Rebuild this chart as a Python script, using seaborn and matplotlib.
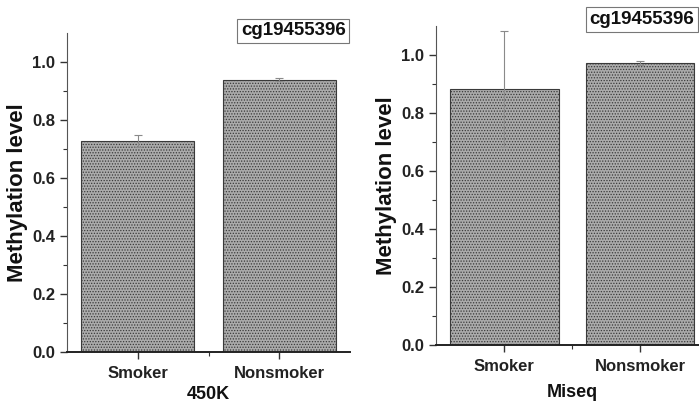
import numpy as np
import pandas as pd
import matplotlib
matplotlib.use('Agg')
import matplotlib.pyplot as plt
import seaborn as sns

# values
groups = ['Smoker', 'Nonsmoker']
meth_450k = [0.727, 0.938]
err_450k = [0.02, 0.005]
meth_miseq = [0.882, 0.972]
err_miseq = [0.20, 0.008]
panel_xlabels = ['450K', 'Miseq']
probe = 'cg19455396'

sns.set_style('ticks', {'text.color': '#111111', 'xtick.color': '#222222',
                        'ytick.color': '#222222', 'axes.labelcolor': '#111111'})
plt.rcParams['font.family'] = ['Liberation Sans Narrow', 'Liberation Sans', 'DejaVu Sans']
plt.rcParams['hatch.color'] = '#666666'
plt.rcParams['hatch.linewidth'] = 0.6

fig = plt.figure(figsize=(6.99, 4.05), dpi=100)
ax1 = fig.add_axes([0.096, 0.131, 0.405, 0.788])
ax2 = fig.add_axes([0.624, 0.148, 0.389, 0.788])

panels = [(ax1, meth_450k, err_450k, panel_xlabels[0], 4),
          (ax2, meth_miseq, err_miseq, panel_xlabels[1], 7)]

for ax, vals, errs, xlab, xpad in panels:
    df = pd.DataFrame({'group': groups, 'level': vals})
    sns.barplot(data=df, x='group', y='level', order=groups, errorbar=None,
                color='#ababab', saturation=1, width=0.8,
                edgecolor='#3a3a3a', linewidth=0.8, ax=ax)
    for p in ax.patches:
        p.set_hatch('......')
    ax.errorbar(range(len(groups)), vals, yerr=errs, fmt='none',
                ecolor='#8a8a8a', elinewidth=0.8, capsize=3, capthick=0.8)
    ax.set_xlim(-0.5, 1.5)
    ax.set_ylim(0, 1.1)
    ax.set_yticks(np.arange(0, 1.01, 0.2))
    ax.set_yticks(np.arange(0.1, 1.1, 0.2), minor=True)
    ax.set_xticks([0.5], minor=True)
    ax.set_yticklabels(['%.1f' % t for t in np.arange(0, 1.01, 0.2)],
                       fontsize=12, fontweight='bold')
    ax.set_xticklabels(groups, fontsize=12, fontweight='bold')
    ax.tick_params(axis='both', which='major', length=5, width=1, color='#333333')
    ax.tick_params(axis='x', which='major', pad=5)
    ax.tick_params(axis='both', which='minor', length=3, width=0.8, color='#333333')
    ax.set_ylabel('Methylation level', fontsize=16, fontweight='bold',
                  family=['Liberation Sans', 'DejaVu Sans'], labelpad=3)
    ax.set_xlabel(xlab, fontsize=13, fontweight='bold', labelpad=xpad)
    sns.despine(ax=ax)
    ax.spines['left'].set_color('#555555')
    ax.spines['bottom'].set_linewidth(1.4)
    ax.spines['bottom'].set_color('#222222')

fig.text(0.4945, 0.924, probe, ha='right', va='center', fontsize=13.5,
         fontweight='bold',
         bbox=dict(boxstyle='square,pad=0.2', fc='white', ec='#777777', lw=0.8))
fig.text(0.9935, 0.952, probe, ha='right', va='center', fontsize=13.5,
         fontweight='bold',
         bbox=dict(boxstyle='square,pad=0.2', fc='white', ec='#777777', lw=0.8))

fig.savefig('out.png', dpi=100)
